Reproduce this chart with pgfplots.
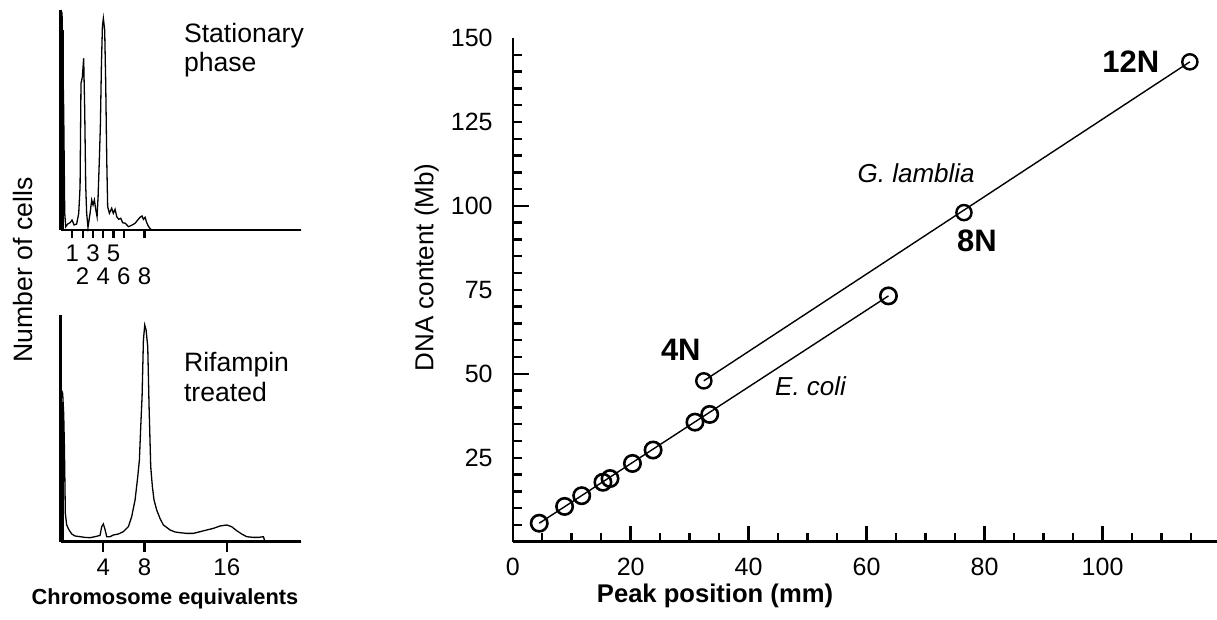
\documentclass[border=0pt]{standalone}
\usepackage{fontspec}
\setmainfont{Liberation Sans}
\usepackage{pgfplots}
\pgfplotsset{compat=1.18}
\begin{document}
\begin{tikzpicture}
\useasboundingbox (0,0) rectangle (608.5pt,310pt);
% ---------------- right panel ----------------
\begin{axis}[
  at={(256.35pt,39.15pt)}, anchor=south west, scale only axis,
  width=352.15pt, height=251.85pt,
  xmin=0, xmax=119.4, ymin=0, ymax=150,
  axis x line*=bottom, axis y line*=left,
  axis line style={line width=1.2pt},
  tick align=inside,
  xtick={0,20,...,100}, minor xtick={5,10,...,115},
  ytick={50,100}, minor ytick={5,10,...,145},
  extra y ticks={25,75,125,150}, extra y tick style={major tick length=0pt},
  major tick length=8pt, minor tick length=4.5pt,
  every tick/.style={black, line width=1.2pt},
  tick label style={font=\fontsize{12.5}{14}\selectfont},
  /pgf/number format/assume math mode=true,
  xticklabel style={yshift=-4.5pt},
  yticklabel style={xshift=-6.5pt},
  clip=false,
]
\addplot[black, line width=0.7pt] coordinates {(4.5,5.5) (63.7,73.2)};
\addplot[black, line width=0.7pt] coordinates {(32.4,47.9) (114.8,142.9)};
\addplot[only marks, mark=o, mark size=4.1pt, mark options={black, line width=1.3pt}] coordinates {
(4.5,5.5) (8.8,10.5) (11.7,13.7) (15.3,17.7) (16.5,18.8) (20.3,23.3) (23.8,27.3) (30.9,35.6) (33.4,37.9) (63.7,73.2)};
\addplot[only marks, mark=o, mark size=3.8pt, mark options={black, line width=1.2pt}] coordinates {
(32.4,47.9) (76.5,98.0) (114.8,142.9)};
\node[font=\fontsize{15.5}{17}\selectfont\bfseries] at (axis cs:104.8,142.9) {12N};
\node[font=\fontsize{15.5}{17}\selectfont\bfseries] at (axis cs:78.7,89.5) {8N};
\node[font=\fontsize{15.5}{17}\selectfont\bfseries] at (axis cs:28.5,57.1) {4N};
\node[font=\fontsize{13}{15}\selectfont\itshape] at (axis cs:68.4,109.8) {G. lamblia};
\node[font=\fontsize{13}{15}\selectfont\itshape] at (axis cs:50.5,46.4) {E. coli};
\end{axis}
% ---------------- left top panel ----------------
\begin{axis}[
  at={(30.25pt,195pt)}, anchor=south west, scale only axis,
  width=120.25pt, height=110pt,
  xmin=-0.15, xmax=23.2, ymin=0, ymax=220,
  axis x line*=bottom, axis y line*=left,
  axis line style={line width=1.3pt},
  tick align=outside, ytick=\empty,
  xtick={1,3,5}, extra x ticks={2,4,6,8},
  extra x tick style={xticklabel style={yshift=-11.5pt}},
  major tick length=4pt,
  every tick/.style={black, line width=1.1pt},
  tick label style={font=\fontsize{12}{14}\selectfont},
  /pgf/number format/assume math mode=true,
  clip=false,
]
\addplot[black, line width=0.65pt] coordinates {
(-0.1,220) (0.0,216.7) (0.06,180) (0.16,120) (0.26,16.7) (0.36,3.3)
(0.55,6) (0.78,7.3) (0.97,10) (1.17,5) (1.42,6)
(1.62,16.7) (1.75,43.3) (1.84,146.7) (1.97,152.7) (2.10,171.7) (2.20,120) (2.30,43.3) (2.39,16.7) (2.52,2.7)
(2.72,16.7) (2.88,30) (3.01,25) (3.14,30) (3.27,20.7) (3.40,13.3) (3.50,33.3) (3.62,70) (3.72,103.3) (3.82,163.3) (3.92,203.3) (4.01,211.7) (4.14,200) (4.24,146.7) (4.34,70) (4.43,23.3)
(4.60,16.7) (4.82,21.7) (4.98,16.7) (5.15,20.7) (5.31,13.3) (5.50,10.7) (5.70,11.7) (5.89,7.3) (6.15,6.7) (6.44,3.3) (6.76,4.7) (7.09,6.7) (7.35,10) (7.57,12.7) (7.77,14) (7.90,10.7) (8.06,12.7) (8.22,7.3) (8.41,3.3) (8.61,0.7) (8.87,0) (23.2,0)};
\addplot[black, line width=1.6pt] coordinates {(0.02,0) (0.02,200)};
\end{axis}
% ---------------- left bottom panel ----------------
\begin{axis}[
  at={(30.25pt,39.15pt)}, anchor=south west, scale only axis,
  width=120.25pt, height=113.35pt,
  xmin=-0.15, xmax=23.2, ymin=0, ymax=226.7,
  axis x line*=bottom, axis y line*=left,
  axis line style={line width=1.3pt},
  tick align=outside, ytick=\empty,
  xtick={4,8,16},
  major tick length=5pt,
  every tick/.style={black, line width=1.1pt},
  tick label style={font=\fontsize{12}{14}\selectfont},
  /pgf/number format/assume math mode=true,
  clip=false,
]
\addplot[black, line width=0.65pt] coordinates {
(-0.06,151.7) (0.06,148.3) (0.16,128.3) (0.23,95) (0.32,28.3) (0.45,16.7) (0.65,12.3) (0.94,7.7) (1.26,5.7) (1.75,5) (2.23,4.3) (2.72,4) (3.2,5) (3.69,6.3)
(3.85,15) (4.01,17.7) (4.17,12.3) (4.34,5) (4.66,5) (4.98,6.7) (5.47,7.7) (5.95,10) (6.44,15) (6.76,25) (7.09,41.7) (7.35,65) (7.51,81.7) (7.64,115) (7.77,145) (7.9,201.7) (8.03,216.7) (8.16,211.7) (8.32,195) (8.45,135) (8.61,75) (8.77,55) (8.93,41.7) (9.19,31.7) (9.51,23.3) (9.84,16.7) (10.16,14.3) (10.49,11.7) (10.97,9.7) (11.46,9) (12.1,8.3) (12.75,8.3) (13.4,10) (14.05,11.7) (14.69,13.3) (15.34,15.7) (15.99,16.7) (16.47,15) (16.96,11) (17.44,7.7) (17.93,5) (18.58,4.3) (19.06,4.3) (19.55,5) (19.71,0) (23.2,0)};
\addplot[black, line width=1.6pt] coordinates {(0.02,0) (0.02,140)};
\end{axis}
% ---------------- texts ----------------
\node[font=\fontsize{13.3}{15}\selectfont, anchor=base west] at (88.5pt,288.5pt) {Stationary};
\node[font=\fontsize{13.3}{15}\selectfont, anchor=base west] at (88.5pt,274.15pt) {phase};
\node[font=\fontsize{13.3}{15}\selectfont, anchor=base west] at (88.5pt,124.15pt) {Rifampin};
\node[font=\fontsize{13.3}{15}\selectfont, anchor=base west] at (88.5pt,109.15pt) {treated};
\node[font=\fontsize{13.3}{15}\selectfont, rotate=90] at (11.5pt,175pt) {Number of cells};
\node[font=\fontsize{10.9}{13}\selectfont\bfseries] at (82.5pt,10.75pt) {Chromosome equivalents};
\node[font=\fontsize{13}{15}\selectfont, rotate=90] at (213.35pt,176.25pt) {DNA content (Mb)};
\node[font=\fontsize{12.8}{15}\selectfont\bfseries] at (357.5pt,12pt) {Peak position (mm)};
\end{tikzpicture}
\end{document}
